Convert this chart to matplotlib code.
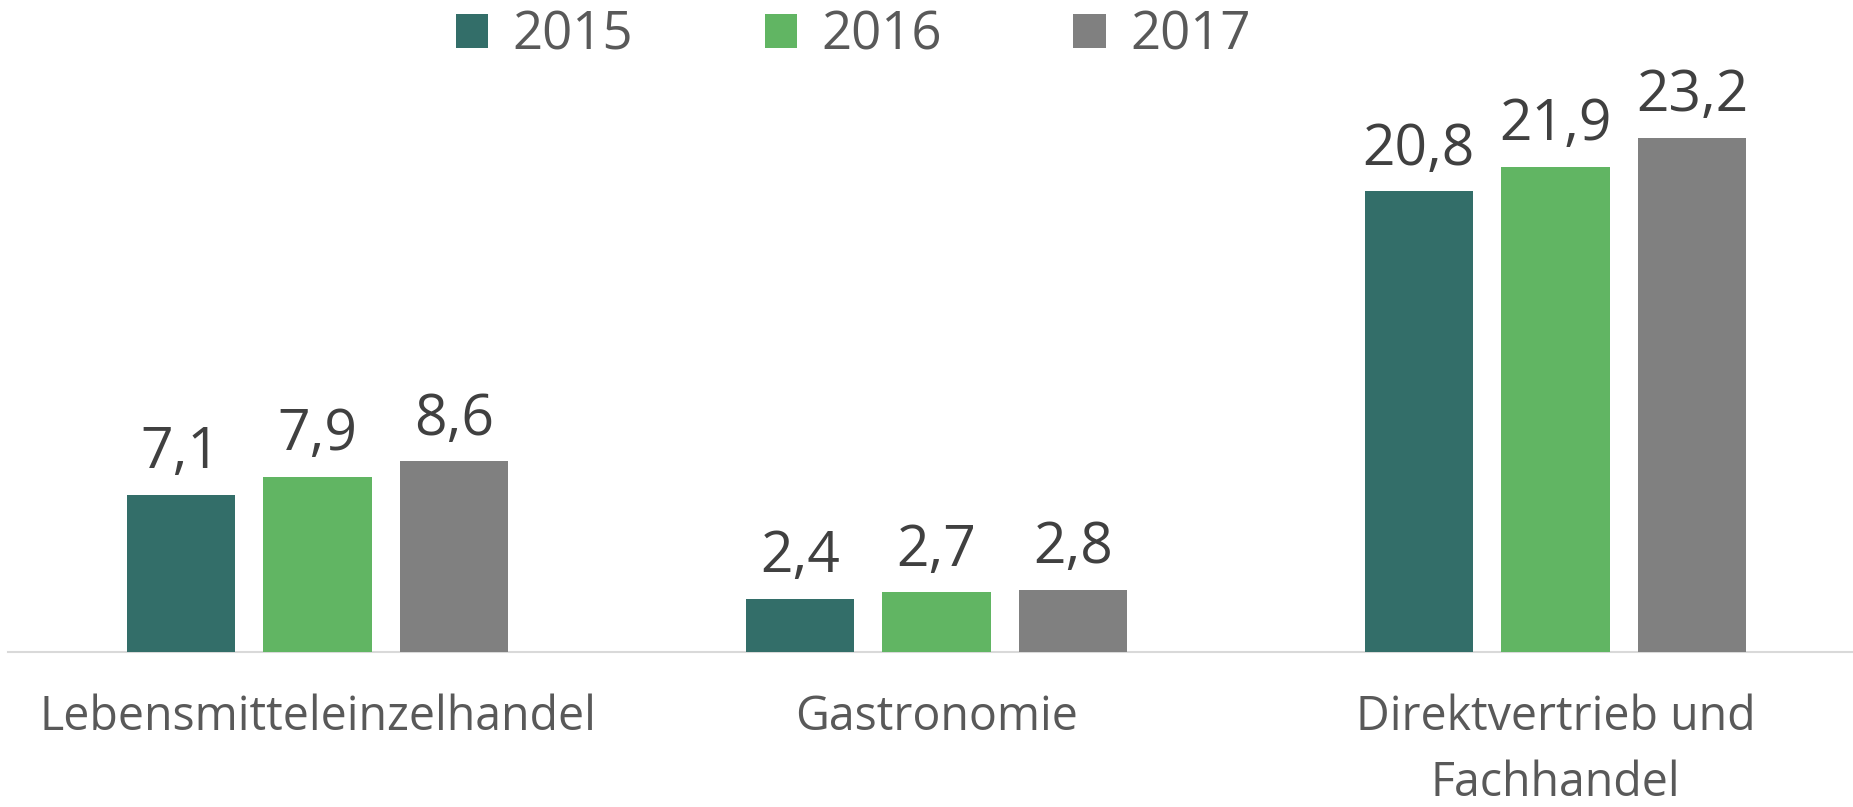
import matplotlib
matplotlib.use("Agg")
import matplotlib.pyplot as plt
from matplotlib.patches import Patch
import numpy as np

# Daten
categories = ["Lebensmitteleinzelhandel", "Gastronomie", "Direktvertrieb und\nFachhandel"]
years = ["2015", "2016", "2017"]
values_2015 = [7.1, 2.4, 20.8]
values_2016 = [7.9, 2.7, 21.9]
values_2017 = [8.6, 2.8, 23.2]
colors = ["#336e69", "#61b563", "#808080"]

plt.rcParams["font.family"] = ["Open Sans", "DejaVu Sans"]

fig = plt.figure(figsize=(18.53, 8.07), dpi=100)
ax = fig.add_axes([8 / 1853, 155 / 807, 1 - 8 / 1853, 554 / 807])

x = np.arange(len(categories))
width = 0.175
step = 0.221
series = [values_2015, values_2016, values_2017]
for i, (vals, col) in enumerate(zip(series, colors)):
    pos = x + (i - 1) * step
    bars = ax.bar(pos, vals, width=width, color=col, zorder=3)
    for b, v in zip(bars, vals):
        ax.annotate(f"{v:.1f}".replace(".", ","), (b.get_x() + b.get_width() / 2, v),
                    xytext=(0, 9), textcoords="offset points", ha="center", va="bottom",
                    fontsize=41, color="#404040")

ax.set_xlim(-0.5, (1853 - 317.5) / 619)
ax.set_ylim(0, 25)
ax.set_xticks(x)
ax.set_xticklabels(categories, fontsize=33.5, color="#595959", linespacing=1.5)
ax.tick_params(axis="x", length=0, pad=30)
ax.set_yticks([])
for s in ["top", "right", "left"]:
    ax.spines[s].set_visible(False)
ax.spines["bottom"].set_color("#d9d9d9")
ax.spines["bottom"].set_linewidth(1.5)

handles = [Patch(facecolor=c, label=y) for c, y in zip(colors, years)]
fig.legend(handles=handles, loc="center", bbox_to_anchor=(853 / 1853, 1 - 36 / 807),
           ncol=3, frameon=False, fontsize=38, labelcolor="#595959",
           handlelength=0.62, handleheight=0.62, handletextpad=0.45, columnspacing=2.5)

fig.savefig("out.png", dpi=100)
plt.close(fig)
